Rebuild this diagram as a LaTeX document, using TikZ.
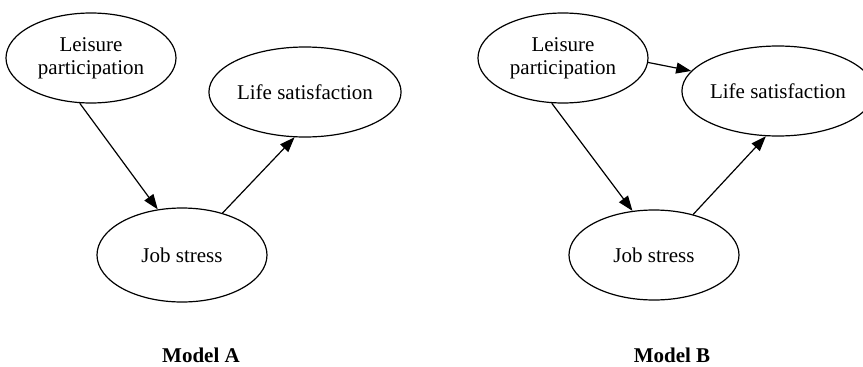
\documentclass[tikz,border=0pt]{standalone}
\usepackage{fontspec}
\setmainfont{Liberation Serif}
\usetikzlibrary{shapes.geometric}
\usetikzlibrary{arrows.meta}

\begin{document}
\begin{tikzpicture}[x=1pt, y=-1pt,
            var/.style = {draw, black, line width=1.2pt, ellipse, inner sep=0pt,
                minimum width=170pt, minimum height=90pt, align=center,
                font=\fontsize{21}{23}\selectfont},
            link/.style = {black, line width=1.2pt, -{Triangle[length=15pt,width=11pt]}},
            modeltitle/.style = {font=\fontsize{21}{23}\selectfont\bfseries}]
            \useasboundingbox (0,0) rectangle (863,367);

            % Model A
            \node[var] (LeisA) at (91,58) {Leisure\\participation};
            \node[var, minimum width=160pt] (LifeA) at (305,92) {Life satisfaction};
            \node[var, minimum height=94pt] (JobA) at (182,255) {Job stress};
            \draw[link] (LeisA.256) -- (JobA.118);
            \draw[link] (JobA.46) -- (LifeA.257);
            \node[modeltitle] (TitleA) at (201,355) {Model A};

            % Model B
            \node[var] (LeisB) at (563,58) {Leisure\\participation};
            \node[var, minimum width=162pt] (LifeB) at (778,91) {Life satisfaction};
            \node[var] (JobB) at (654,255) {Job stress};
            \draw[link] (LeisB.-3) -- (LifeB.167);
            \draw[link] (LeisB.256) -- (JobB.116);
            \draw[link] (JobB.46) -- (LifeB.255);
            \node[modeltitle] (TitleB) at (672,355) {Model B};

        \end{tikzpicture}
\end{document}
